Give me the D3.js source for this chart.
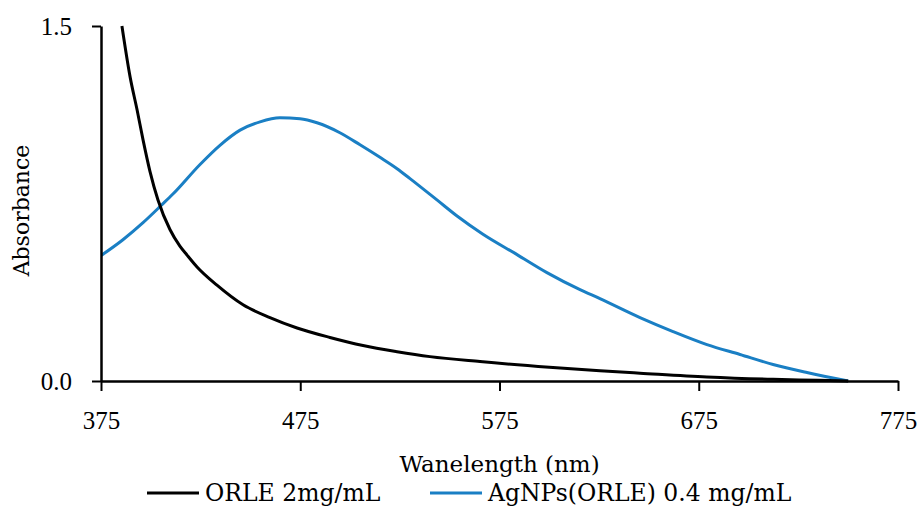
<!DOCTYPE html>
<html>
<head>
<meta charset="utf-8">
<script src="https://cdn.jsdelivr.net/npm/d3@7"></script>
<style>
  body { margin: 0; background: #fff; }
  text { font-family: "DejaVu Serif", "Liberation Serif", serif; fill: #000; }
  .tick text { font-family: "Liberation Serif", serif; }
</style>
</head>
<body>
<div id="chart"></div>
<script>
// wavelength (nm) / absorbance
var orleWl  = [385.5, 389.6, 393.1, 396.1, 399.6, 403.6, 409.6, 414.6, 418.2, 423.2, 433.2, 446.3, 459.8, 473.4, 489.9, 506.5, 523.6, 540.1, 565.2, 600, 625.4, 645.5, 679.1, 712.3, 735, 750];
var orleAbs = [1.50, 1.285, 1.146, 1.019, 0.885, 0.765, 0.640, 0.570, 0.532, 0.482, 0.405, 0.322, 0.268, 0.224, 0.184, 0.150, 0.124, 0.103, 0.082, 0.058, 0.043, 0.033, 0.017, 0.007, 0.003, 0.0];

var agWl  = [375, 386.0, 396.1, 405.6, 411.1, 424.7, 434.7, 444.8, 454.8, 464.8, 474.9, 483.4, 494.9, 505.0, 515.0, 523.6, 530.1, 543.6, 553.7, 566.7, 583.8, 598.8, 615.4, 625.4, 645.5, 662.1, 679.1, 695.7, 712.3, 729.3, 750];
var agAbs = [0.530, 0.597, 0.669, 0.745, 0.790, 0.915, 0.996, 1.060, 1.095, 1.112, 1.108, 1.091, 1.049, 0.998, 0.945, 0.897, 0.855, 0.765, 0.697, 0.620, 0.534, 0.458, 0.386, 0.348, 0.268, 0.209, 0.154, 0.112, 0.070, 0.036, 0.0];

var xTicks = [375, 475, 575, 675, 775];
var yTicks = [0, 1.5];
var seriesNames = ["ORLE 2mg/mL", "AgNPs(ORLE) 0.4 mg/mL"];
var colors = ["#000000", "#1a7fc4"];

var W = 919, H = 506;
var margin = {top: 26, right: 21, bottom: 125, left: 101},
    width = W - margin.left - margin.right,
    height = H - margin.top - margin.bottom;

var svg = d3.select("#chart")
  .append("svg")
    .attr("width", W)
    .attr("height", H)
  .append("g")
    .attr("transform", "translate(" + margin.left + "," + margin.top + ")");

var x = d3.scaleLinear().domain([375, 775]).range([0, width]);
var y = d3.scaleLinear().domain([0, 1.5]).range([height, 0]);

svg.append("clipPath").attr("id", "clip")
  .append("rect").attr("x", 0).attr("y", -2).attr("width", width).attr("height", height + 4);

// lines
var line = d3.line()
  .x(function(d) { return x(d[0]); })
  .y(function(d) { return y(d[1]); })
  .curve(d3.curveMonotoneX);

var orle = orleWl.map(function(w, i) { return [w, orleAbs[i]]; });
var ag = agWl.map(function(w, i) { return [w, agAbs[i]]; });

svg.append("path").datum(ag)
  .attr("clip-path", "url(#clip)")
  .attr("fill", "none").attr("stroke", colors[1]).attr("stroke-width", 3)
  .attr("d", line);

svg.append("path").datum(orle)
  .attr("clip-path", "url(#clip)")
  .attr("fill", "none").attr("stroke", colors[0]).attr("stroke-width", 3)
  .attr("d", line);

// axes
var xAxis = svg.append("g")
  .attr("transform", "translate(0," + height + ")")
  .call(d3.axisBottom(x).tickValues(xTicks).tickSize(10).tickSizeOuter(0).tickPadding(20));
var yAxis = svg.append("g")
  .call(d3.axisLeft(y).tickValues(yTicks).tickFormat(d3.format(".1f")).tickSize(9).tickSizeOuter(0).tickPadding(20));

[xAxis, yAxis].forEach(function(a) {
  a.select(".domain").attr("stroke", "#000").attr("stroke-width", 2.5);
  a.selectAll(".tick line").attr("stroke", "#000").attr("stroke-width", 2);
  a.selectAll(".tick text").style("font-size", "25px").attr("fill", "#000");
});
yAxis.selectAll(".tick text").attr("dy", "0.35em");

// axis titles
svg.append("text")
  .attr("x", width / 2).attr("y", height + 91)
  .attr("text-anchor", "middle")
  .style("font-size", "23px")
  .text("Wanelength (nm)");

svg.append("text")
  .attr("transform", "translate(" + (-72) + "," + (height / 2 + 7) + ") rotate(-90)")
  .attr("text-anchor", "middle")
  .style("font-size", "22px")
  .text("Absorbance");

// legend
var legend = svg.append("g").attr("transform", "translate(0," + (height + 112) + ")");
var legX = [46, 329];
seriesNames.forEach(function(name, i) {
  legend.append("line")
    .attr("x1", legX[i]).attr("x2", legX[i] + 52)
    .attr("y1", 0).attr("y2", 0)
    .attr("stroke", colors[i]).attr("stroke-width", 3);
  legend.append("text")
    .attr("x", legX[i] + 58).attr("y", 0).attr("dy", "0.35em")
    .style("font-size", "23.5px")
    .text(name);
});
</script>
</body>
</html>
